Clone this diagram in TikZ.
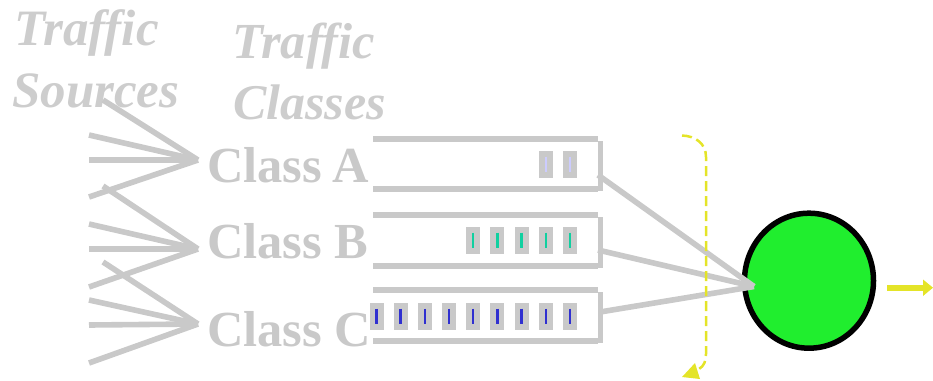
\documentclass[tikz,border=0pt]{standalone}
\usepackage{fontspec}
\setmainfont{Liberation Serif}
\usetikzlibrary{calc,shapes.geometric}
\definecolor{gr}{HTML}{C9C9C9}
\definecolor{txtgr}{HTML}{CDCDCD}
\definecolor{yel}{HTML}{E4E428}
\definecolor{srv}{HTML}{20EE2E}
\definecolor{pa}{HTML}{CCCCFF}
\definecolor{pb}{HTML}{10D0A0}
\definecolor{pc}{HTML}{3030D0}
\tikzset{
  x=1pt,y=-1pt,
  heading/.style={anchor=base west,inner sep=0pt,text=txtgr,font=\fontsize{51}{51}\selectfont\bfseries\itshape},
  classlabel/.style={anchor=base west,inner sep=0pt,text=gr,font=\fontsize{50.5}{51}\selectfont\bfseries},
  wire/.style={draw=gr,line width=5.6pt},
  pkt/.style={draw=none,fill=gr,minimum width=14pt,minimum height=27pt,inner sep=0pt},
  pktmark/.style={line width=2.4pt},
  server/.style={shape=ellipse,draw=black,line width=5.5pt,fill=srv,minimum width=129pt,minimum height=135pt,inner sep=0pt,outer sep=0pt},
  flow/.style={draw=yel,line width=2.5pt,dash pattern=on 10pt off 5pt},
  outline/.style={draw=yel,line width=5.6pt},
  yelhead/.style={fill=yel,draw=none}
}
\begin{document}
\begin{tikzpicture}
\useasboundingbox (0,0) rectangle (933,380);
\node[heading] (h1) at (14,45) {Traffic};
\node[heading] (h2) at (12,107) {Sources};
\node[heading,font=\fontsize{50.5}{51}\selectfont\bfseries\itshape] (h3) at (232,58) {Traffic};
\node[heading,font=\fontsize{50}{50}\selectfont\bfseries\itshape] (h4) at (233,119) {Classes};
\node[classlabel] (la) at (207,182) {Class\hspace{-2pt} A};
\node[classlabel] (lb) at (207,258) {Class B};
\node[classlabel] (lc) at (207,346) {Class C};
% fans
\coordinate (fa) at (198,160);
\coordinate (fb) at (198,249);
\coordinate (fc) at (198,324);
\foreach \n/\a/\b/\c/\d in {fa/100/135/160/197, fb/186/224/249/287, fc/262/300/325/363}{
  \coordinate (\n1) at (103,\a);
  \coordinate (\n2) at (89,\b);
  \coordinate (\n3) at (89,\c);
  \coordinate (\n4) at (89,\d);
  \foreach \i in {1,2,3,4} \draw[wire] (\n\i) -- (\n);
}
% queues
\foreach \q/\yt/\yb in {qa/139/189, qb/215/266, qc/290/341}{
  \coordinate (\q tl) at (373,\yt);
  \coordinate (\q tr) at (598,\yt);
  \coordinate (\q bl) at (373,\yb);
  \coordinate (\q br) at (598,\yb);
  \coordinate (\q rt) at (600.5,\yt+2);
  \coordinate (\q rb) at (600.5,\yb+2);
  \draw[wire] (\q tl) -- (\q tr);
  \draw[wire] (\q bl) -- (\q br);
  \draw[wire] (\q rt) -- (\q rb);
}
% packets
\foreach \i/\px in {1/570,2/545.8}{
  \node[pkt] (pa\i) at (\px,164) {};
  \draw[pa,pktmark] (\px,156.5) -- (\px,171.5);
}
\foreach \i/\px in {1/570,2/545.8,3/521.6,4/497.4,5/473.2}{
  \node[pkt] (pb\i) at (\px,240) {};
  \draw[pb,pktmark] (\px,232.5) -- (\px,247.5);
}
\foreach \i/\px in {1/570,2/545.8,3/521.6,4/497.4,5/473.2,6/449,7/424.8,8/400.6,9/376.6}{
  \node[pkt] (pc\i) at (\px,316) {};
  \draw[pc,pktmark] (\px,308.5) -- (\px,323.5);
}
% server
\node[server] (srvnode) at (809,280.7) {};
\coordinate (srvin) at (754,286.5);
\coordinate (qaout) at (598,175);
\coordinate (qbout) at (598,250);
\coordinate (qcout) at (600,312);
\draw[wire] (qaout) -- (srvin);
\draw[wire] (qbout) -- (srvin);
\draw[wire] (qcout) -- (srvin);
% scheduler sweep
\coordinate (ds) at (682,135.5);
\coordinate (de) at (699,369);
\draw[flow] (ds) .. controls (696,136) and (706,144) .. (706,157) -- (706,354) .. controls (706,361) and (704,366) .. (de);
\fill[yelhead] (682,377) -- (695,363) -- (700,379) -- cycle;
% output
\coordinate (os) at (887,287.7);
\coordinate (oe) at (924,287.7);
\draw[outline] (os) -- (oe);
\fill[yelhead] (923,279.5) -- (933,287.7) -- (923,296) -- cycle;
\end{tikzpicture}
\end{document}
